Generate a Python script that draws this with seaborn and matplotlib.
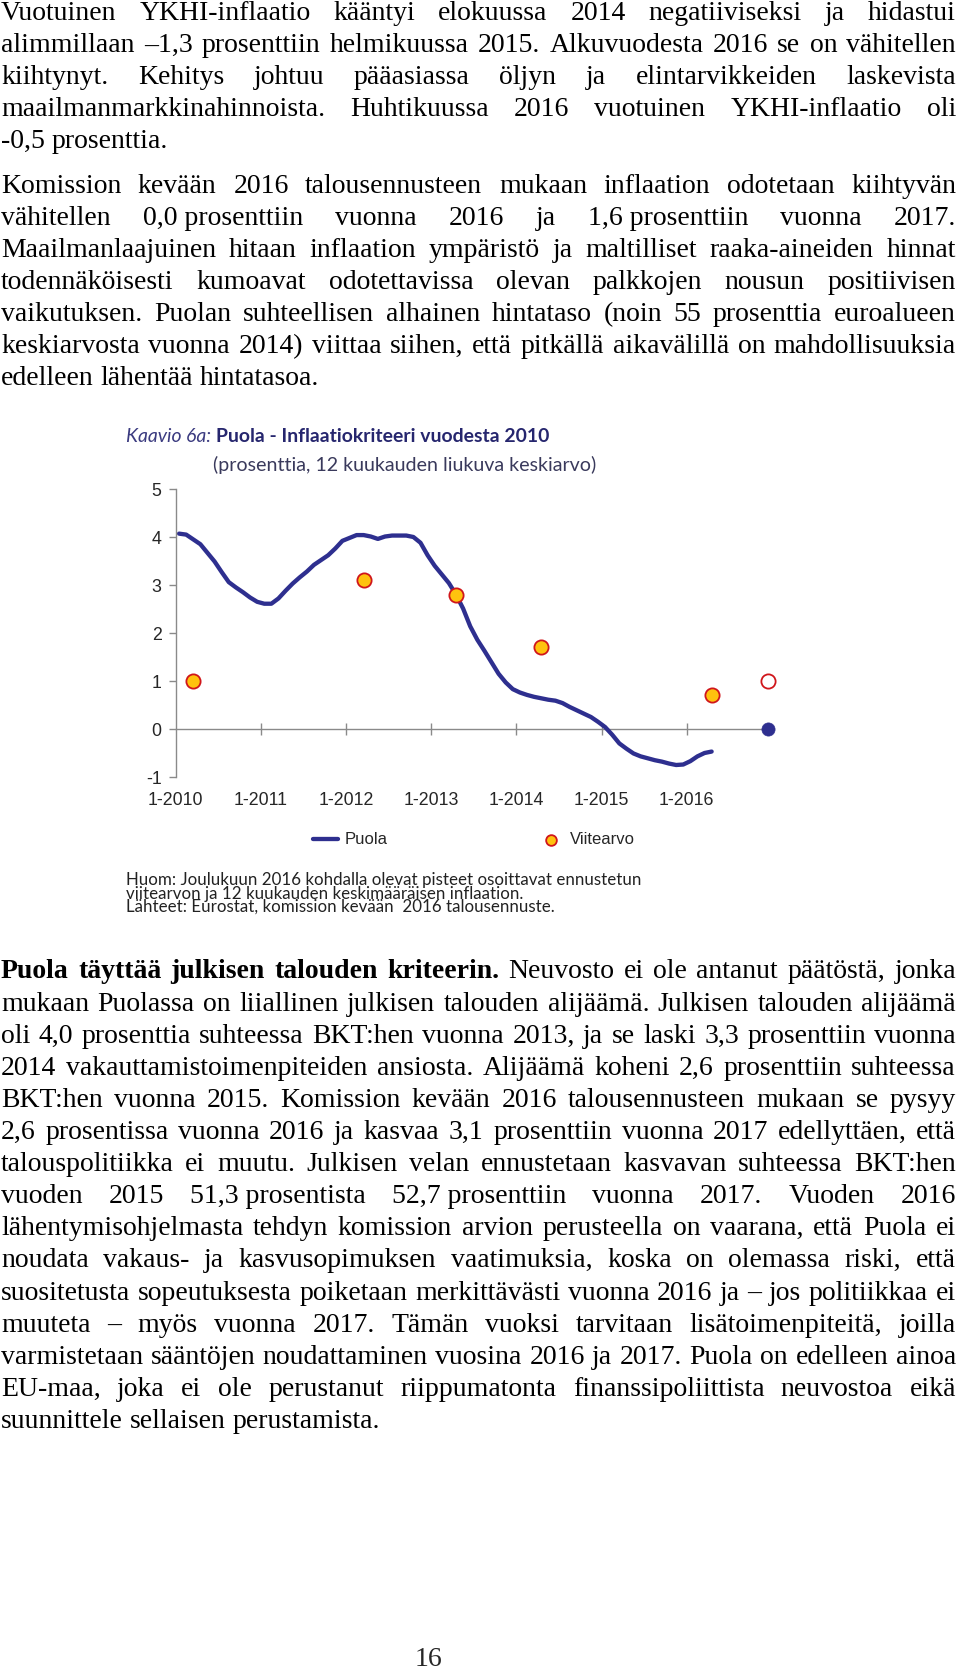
import matplotlib
matplotlib.use("Agg")
import matplotlib.pyplot as plt
import numpy as np
import pandas as pd
import seaborn as sns

sns.set_theme(style="white")
plt.rcParams["font.family"] = ["Liberation Sans", "DejaVu Sans"]

# --- kaavion data (luettu kuvasta) ---
# kuukausi 0 = 1/2010 ... 75 = 4/2016, YKHI 12 kk liukuva keskiarvo
kuukausi = list(range(76))
puola = [4.07, 4.05, 3.95, 3.85, 3.67, 3.49, 3.27, 3.06, 2.95, 2.85, 2.74, 2.65,
         2.61, 2.61, 2.72, 2.88, 3.03, 3.16, 3.28, 3.42, 3.52, 3.62, 3.76, 3.92,
         3.98, 4.04, 4.04, 4.01, 3.96, 4.01, 4.03, 4.03, 4.03, 4.00, 3.88, 3.62,
         3.40, 3.22, 3.04, 2.80, 2.51, 2.14, 1.86, 1.63, 1.39, 1.15, 0.97, 0.83,
         0.76, 0.71, 0.67, 0.64, 0.61, 0.59, 0.54, 0.46, 0.39, 0.32, 0.25, 0.15,
         0.04, -0.12, -0.30, -0.41, -0.51, -0.57, -0.61, -0.65, -0.68, -0.72, -0.75, -0.74,
         -0.67, -0.57, -0.50, -0.47]
viite_kk = [2, 26, 39, 51, 75]
viite = [1.0, 3.1, 2.8, 1.7, 0.7]
ennuste_kk = 83          # 12/2016
ennuste_viite = 1.0
ennuste_puola = 0.0
vuodet = ["1-2010", "1-2011", "1-2012", "1-2013", "1-2014", "1-2015", "1-2016"]
y_arvot = [-1, 0, 1, 2, 3, 4, 5]

# --- sivun teksti ---
kappale1 = [
    "Vuotuinen YKHI-inflaatio kääntyi elokuussa 2014 negatiiviseksi ja hidastui",
    "alimmillaan –1,3 prosenttiin helmikuussa 2015. Alkuvuodesta 2016 se on vähitellen",
    "kiihtynyt. Kehitys johtuu pääasiassa öljyn ja elintarvikkeiden laskevista",
    "maailmanmarkkinahinnoista. Huhtikuussa 2016 vuotuinen YKHI-inflaatio oli",
    "-0,5 prosenttia.",
]
kappale2 = [
    "Komission kevään 2016 talousennusteen mukaan inflaation odotetaan kiihtyvän",
    "vähitellen 0,0\u00a0prosenttiin vuonna 2016 ja 1,6\u00a0prosenttiin vuonna 2017.",
    "Maailmanlaajuinen hitaan inflaation ympäristö ja maltilliset raaka-aineiden hinnat",
    "todennäköisesti kumoavat odotettavissa olevan palkkojen nousun positiivisen",
    "vaikutuksen. Puolan suhteellisen alhainen hintataso (noin 55 prosenttia euroalueen",
    "keskiarvosta vuonna 2014) viittaa siihen, että pitkällä aikavälillä on mahdollisuuksia",
    "edelleen lähentää hintatasoa.",
]
lihavoitu = "Puola täyttää julkisen talouden kriteerin."
kappale3 = [
    "Puola täyttää julkisen talouden kriteerin. Neuvosto ei ole antanut päätöstä, jonka",
    "mukaan Puolassa on liiallinen julkisen talouden alijäämä. Julkisen talouden alijäämä",
    "oli 4,0 prosenttia suhteessa BKT:hen vuonna 2013, ja se laski 3,3 prosenttiin vuonna",
    "2014 vakauttamistoimenpiteiden ansiosta. Alijäämä koheni 2,6 prosenttiin suhteessa",
    "BKT:hen vuonna 2015. Komission kevään 2016 talousennusteen mukaan se pysyy",
    "2,6 prosentissa vuonna 2016 ja kasvaa 3,1 prosenttiin vuonna 2017 edellyttäen, että",
    "talouspolitiikka ei muutu. Julkisen velan ennustetaan kasvavan suhteessa BKT:hen",
    "vuoden 2015 51,3\u00a0prosentista 52,7\u00a0prosenttiin vuonna 2017. Vuoden 2016",
    "lähentymisohjelmasta tehdyn komission arvion perusteella on vaarana, että Puola ei",
    "noudata vakaus- ja kasvusopimuksen vaatimuksia, koska on olemassa riski, että",
    "suositetusta sopeutuksesta poiketaan merkittävästi vuonna 2016 ja – jos politiikkaa ei",
    "muuteta – myös vuonna 2017. Tämän vuoksi tarvitaan lisätoimenpiteitä, joilla",
    "varmistetaan sääntöjen noudattaminen vuosina 2016 ja 2017. Puola on edelleen ainoa",
    "EU-maa, joka ei ole perustanut riippumatonta finanssipoliittista neuvostoa eikä",
    "suunnittele sellaisen perustamista.",
]
otsikko_a = "Kaavio 6a:"
otsikko_b = "Puola - Inflaatiokriteeri vuodesta 2010"
alaotsikko = "(prosenttia, 12 kuukauden liukuva keskiarvo)"
huom = [
    "Huom: Joulukuun 2016 kohdalla olevat pisteet osoittavat ennustetun",
    "viitearvon ja 12 kuukauden keskimääräisen inflaation.",
    "Lähteet: Eurostat, komission kevään  2016 talousennuste.",
]
sivunumero = "16"

SERIF = ["Liberation Serif", "DejaVu Serif"]
GOTH = ["Lato", "DejaVu Sans"]
SANS = ["Liberation Sans", "DejaVu Sans"]
SININEN = "#2E2F8F"
PUNAINEN = "#D0161B"
KELTAINEN = "#FFC20E"
HARMAA = "#8A8A8A"

fig = plt.figure(figsize=(9.6, 16.7), dpi=100)
page = fig.add_axes([0, 0, 1, 1])
page.set_xlim(0, 960)
page.set_ylim(1670, 0)
page.axis("off")
r = fig.canvas.get_renderer()


def leveys(s, size, family=SERIF, weight="normal", style="normal"):
    t = page.text(0, 0, s, fontsize=size, family=family, fontweight=weight, fontstyle=style)
    w = t.get_window_extent(r).width
    t.remove()
    return w


def sanat(rivi, bold_alku=""):
    osat = rivi.split(" ")
    nb = len(bold_alku.split(" ")) if bold_alku and rivi.startswith(bold_alku) else 0
    return [(w, "bold" if i < nb else "normal") for i, w in enumerate(osat)]


X0, X1 = 1, 956

# fonttikoko: pisin tasattu rivi mahtuu leveyteen
rivit = [sanat(s) for s in kappale1[:-1] + kappale2[:-1]]
rivit += [sanat(s, lihavoitu) for s in kappale3[:-1]]
sp10 = leveys("x x", 10) - leveys("xx", 10)
pisin = max(sum(leveys(w, 10, weight=wt) for w, wt in rv) + sp10 * (len(rv) - 1) for rv in rivit)
koko = 10 * (X1 - X0) / pisin * 0.995
vali = sp10 * koko / 10


def rivi_ulos(rv, y, tasaa):
    tekstit = [page.text(0, y, w, fontsize=koko, family=SERIF, fontweight=wt,
                         va="center", color="black") for w, wt in rv]
    lev = [t.get_window_extent(r).width for t in tekstit]
    gap = (X1 - X0 - sum(lev)) / (len(lev) - 1) if tasaa and len(lev) > 1 else vali
    x = X0
    for t, w in zip(tekstit, lev):
        t.set_x(x)
        x += w + gap


def kappale(rivilista, y0, askel, bold_alku=""):
    for i, s in enumerate(rivilista):
        rivi_ulos(sanat(s, bold_alku), y0 + i * askel, i < len(rivilista) - 1)


kappale(kappale1, 13, 32)
kappale(kappale2, 186.5, 32)
kappale(kappale3, 972, 32.1, lihavoitu)
page.text(428, 1659, sivunumero, fontsize=koko, family=SERIF, ha="center", va="center")

# --- otsikot ---
wa = leveys(otsikko_a + " ", 10, GOTH, style="italic")
wb = leveys(otsikko_b, 10, GOTH, weight="bold")
ok = 10 * 425 / (wa + wb)
page.text(126, 436, otsikko_a, fontsize=ok, family=GOTH, fontstyle="italic",
          color="#3B3B80", va="center")
page.text(126 + wa * ok / 10, 436, otsikko_b, fontsize=ok, family=GOTH,
          fontweight="bold", color="#26266E", va="center")
ak = 10 * 384 / leveys(alaotsikko, 10, GOTH)
page.text(213, 465, alaotsikko, fontsize=ak, family=GOTH, color="#3A3A5C", va="center")

hk = 10 * 515 / leveys(huom[0], 10, GOTH)
for i, s in enumerate(huom):
    page.text(126, [880, 894, 907][i], s, fontsize=hk, family=GOTH, color="#222222", va="center")

# --- kaavio ---
ax = fig.add_axes([175.5 / 960, 1 - 777 / 1670, 596.5 / 960, 288 / 1670])
df = pd.DataFrame({"kk": np.array(kuukausi) + 0.5, "Puola": puola})
sns.lineplot(data=df, x="kk", y="Puola", ax=ax, color=SININEN, linewidth=3.1,
             errorbar=None, label="Puola", legend=False, zorder=2)
sns.scatterplot(x=np.array(viite_kk) + 0.5, y=viite, ax=ax, s=105, color=KELTAINEN,
                edgecolor=PUNAINEN, linewidth=1.3, zorder=3, label="Viitearvo", legend=False)
sns.scatterplot(x=[ennuste_kk + 0.5], y=[ennuste_viite], ax=ax, s=105, color="white",
                edgecolor=PUNAINEN, linewidth=1.3, zorder=3, legend=False, clip_on=False)
sns.scatterplot(x=[ennuste_kk + 0.5], y=[ennuste_puola], ax=ax, s=90, color=SININEN,
                edgecolor=SININEN, linewidth=0.5, zorder=4, legend=False, clip_on=False)

ax.set_xlim(0, 84)
ax.set_ylim(-1, 5)
ax.set_xlabel("")
ax.set_ylabel("")
ax.set_facecolor("none")
ax.set_xticks([12 * i for i in range(len(vuodet))], vuodet)
ax.set_yticks(y_arvot, [str(v) for v in y_arvot])
ax.tick_params(axis="x", bottom=False, length=0, pad=11, labelsize=12.8)
ax.tick_params(axis="y", left=True, length=5, width=1, color=HARMAA, labelsize=12.8, pad=5)
sns.despine(ax=ax, bottom=True)
ax.spines["left"].set_color(HARMAA)
ax.spines["left"].set_linewidth(1)

nolla = ax.secondary_xaxis(0, transform=ax.transData)
nolla.set_xticks(list(range(12, 84, 12)))
nolla.tick_params(axis="x", bottom=True, labelbottom=False, direction="inout",
                  length=9, width=1, color=HARMAA)
nolla.spines["bottom"].set_color(HARMAA)
nolla.spines["bottom"].set_linewidth(1)
nolla.set_zorder(1)

kahvat, nimet = ax.get_legend_handles_labels()
fig.legend(handles=kahvat, labels=nimet,
           loc="center", bbox_to_anchor=(474 / 960, 1 - 840 / 1670), ncol=2,
           frameon=False, handlelength=1.5, handletextpad=0.4,
           columnspacing=9, markerscale=0.75, prop={"family": SANS, "size": 12})

fig.savefig("out.png", dpi=100)
